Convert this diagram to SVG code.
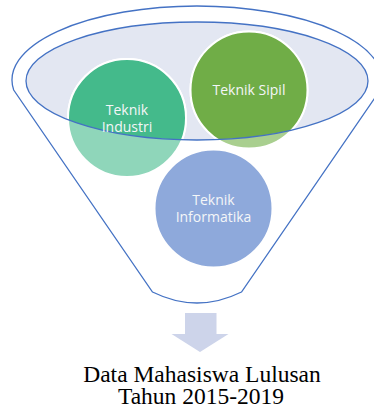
<svg xmlns="http://www.w3.org/2000/svg" width="374" height="410" viewBox="0 0 374 410">
  <style>
    .funnel { fill: #ffffff; stroke: #4472C4; stroke-width: 1.3; }
    .rim { fill: none; stroke: #4472C4; stroke-width: 1.3; }
    .disc { stroke: #ffffff; stroke-width: 2; }
    .lbl { font-family: "Open Sans", "Noto Sans", sans-serif; font-size: 14px; fill: #f4f6f8; text-anchor: middle; }
    .cap { font-family: "Liberation Serif", "Times New Roman", serif; font-size: 23.5px; fill: #000000; text-anchor: middle; }
  </style>
  <defs>
    <clipPath id="mouth">
      <ellipse cx="197" cy="81" rx="171" ry="59"/>
    </clipPath>
  </defs>

  <!-- funnel body -->
  <g id="funnel">
    <path class="funnel" d="M 13.7 90 A 185 74 0 1 1 380.3 90 L 241.5 292 Q 197 314 152.5 292 Z"/>
    <ellipse cx="197" cy="81" rx="171" ry="59" fill="#E3E7F2"/>
  </g>

  <!-- Teknik Industri -->
  <g id="teknik-industri">
    <circle class="disc" cx="127" cy="118" r="59" fill="#8FD6BA"/>
    <circle class="disc" cx="127" cy="118" r="59" fill="#44BA8B" clip-path="url(#mouth)"/>
  </g>

  <!-- Teknik Sipil -->
  <g id="teknik-sipil">
    <circle class="disc" cx="249" cy="90" r="58.5" fill="#A9CF8F"/>
    <circle class="disc" cx="249" cy="90" r="58.5" fill="#70AD47" clip-path="url(#mouth)"/>
  </g>

  <!-- Teknik Informatika -->
  <g id="teknik-informatika">
    <circle class="disc" cx="213.5" cy="208.5" r="59" fill="#8EA9DB"/>
    <text class="lbl" x="213.5" y="205">Teknik</text>
    <text class="lbl" x="213.5" y="222">Informatika</text>
  </g>

  <!-- rim of the funnel mouth, drawn over the discs -->
  <g id="rim">
    <ellipse class="rim" cx="197" cy="81" rx="171" ry="59"/>
  </g>

  <g id="labels">
    <text class="lbl" x="127" y="114.5">Teknik</text>
    <text class="lbl" x="127" y="132">Industri</text>
    <text class="lbl" x="249" y="95">Teknik Sipil</text>
  </g>

  <!-- output arrow -->
  <g id="connectors">
    <path d="M 185 313 L 216.5 313 L 216.5 334 L 228.5 334 L 200 352 L 171.5 334 L 185 334 Z" fill="#CDD4EA"/>
  </g>

  <g id="result">
    <text class="cap" x="202" y="382">Data Mahasiswa Lulusan</text>
    <text class="cap" x="201" y="404">Tahun 2015-2019</text>
  </g>
</svg>
